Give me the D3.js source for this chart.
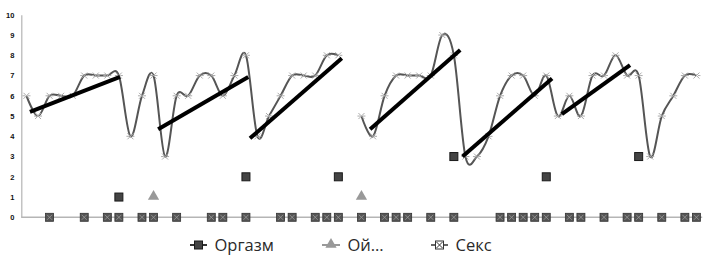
<!DOCTYPE html>
<html><head><meta charset="utf-8">
<script src="https://cdn.jsdelivr.net/npm/d3@7"></script>
<style>body{margin:0;background:#fff}svg{display:block}</style>
</head><body>
<svg id="c" width="711" height="260"></svg>
<script>
// ---- data ----
const categories = d3.range(1, 60); // 59 days
const sex = [6,5,6,6,6,7,7,7,7,4,6,7,3,6,6,7,7,6,7,8,4,5,6,7,7,7,8,8,null,5,4,6,7,7,7,7,9,8,3,3,4,6,7,7,6,7,5,6,5,7,7,8,7,7,3,5,6,7,7];
// Оргазм (non-zero values)
const orgasm = [null,null,null,null,null,null,null,null,1,null,null,null,null,null,null,null,null,null,null,2,null,null,null,null,null,null,null,2,null,null,null,null,null,null,null,null,null,3,null,null,null,null,null,null,null,2,null,null,null,null,null,null,null,3,null,null,null,null,null];
// Ой…
const oi = [null,null,null,null,null,null,null,null,null,null,null,1,null,null,null,null,null,null,null,null,null,null,null,null,null,null,null,null,null,1,null,null,null,null,null,null,null,null,null,null,null,null,null,null,null,null,null,null,null,null,null,null,null,null,null,null,null,null,null];
// zero-level markers (days with value 0)
const zeroDays = [2,5,7,8,10,11,13,16,17,19,22,23,25,26,27,29,31,32,33,35,37,41,42,43,44,45,47,48,50,52,53,55,57,58];
// trend segments: [startIndex, startValue, endIndex, endValue]
const trends = [
  [0.3, 5.21, 8.1, 6.94],
  [11.4, 4.35, 19.2, 6.93],
  [19.35, 3.9, 27.3, 7.85],
  [29.75, 4.35, 37.55, 8.26],
  [37.75, 3.0, 45.5, 6.86],
  [46.35, 5.1, 52.25, 7.52]
];
const yTicks = [0,1,2,3,4,5,6,7,8,9,10];
const legendNames = ["Оргазм", "Ой…", "Секс"];

// ---- chart ----
const svg = d3.select("#c");
const x = d3.scaleBand().domain(d3.range(categories.length)).range([20.7, 702.2]).padding(0);
const cx = i => x(Math.floor(i)) + x.bandwidth()/2 + (i - Math.floor(i)) * x.bandwidth();
const y = d3.scaleLinear().domain([0, 10]).range([217.3, 14.8]);

// y axis
const ya = svg.append("g").attr("transform", "translate(21.3,0)")
  .call(d3.axisLeft(y).tickValues(yTicks).tickSize(0).tickPadding(7));
ya.select(".domain").attr("stroke", "#b5b5b5").attr("stroke-width", 1.2);
ya.selectAll("text").attr("font-family", "Liberation Sans, Arial, sans-serif")
  .attr("font-weight", "bold").attr("font-size", 7.5).attr("fill", "#111");

// x axis baseline
svg.append("line").attr("x1", 21.3).attr("x2", 702.2).attr("y1", y(0)).attr("y2", y(0))
  .attr("stroke", "#b5b5b5").attr("stroke-width", 1.5);

// Секс line
const line = d3.line().defined(d => d != null).x((d, i) => cx(i)).y(d => y(d))
  .curve(d3.curveCatmullRom.alpha(0));
svg.append("path").datum(sex).attr("d", line).attr("fill", "none")
  .attr("stroke", "#555").attr("stroke-width", 2);

// x markers
function xMark(g, px, py, s, color) {
  g.append("path").attr("d", `M${px-s},${py-s}L${px+s},${py+s}M${px-s},${py+s}L${px+s},${py-s}M${px-s-1},${py}L${px-s+1.5},${py}M${px+s-1.5},${py}L${px+s+1},${py}`)
    .attr("stroke", color).attr("stroke-width", 1).attr("fill", "none");
}
const mk = svg.append("g");
sex.forEach((v, i) => { if (v != null) xMark(mk, cx(i), y(v), 3, "#aaa"); });

// trend lines
svg.append("g").selectAll("line").data(trends).join("line")
  .attr("x1", d => cx(d[0])).attr("y1", d => y(d[1]))
  .attr("x2", d => cx(d[2])).attr("y2", d => y(d[3]))
  .attr("stroke", "#000").attr("stroke-width", 4);

// zero markers (square with x)
function boxX(g, px, py, s) {
  g.append("rect").attr("x", px - s).attr("y", py - s).attr("width", 2*s).attr("height", 2*s)
    .attr("fill", "#555").attr("stroke", "#333").attr("stroke-width", 0.8);
  g.append("path").attr("d", `M${px-s+1.5},${py-s+1.5}L${px+s-1.5},${py+s-1.5}M${px-s+1.5},${py+s-1.5}L${px+s-1.5},${py-s+1.5}`)
    .attr("stroke", "#9a9a9a").attr("stroke-width", 0.8);
}
const zg = svg.append("g");
zeroDays.forEach(i => boxX(zg, cx(i), y(0), 4));

// Оргазм squares
svg.append("g").selectAll("rect").data(orgasm.map((v, i) => ({v, i})).filter(d => d.v != null)).join("rect")
  .attr("x", d => cx(d.i) - 4).attr("y", d => y(d.v) - 4).attr("width", 8).attr("height", 8)
  .attr("fill", "#444").attr("stroke", "#1a1a1a").attr("stroke-width", 1);

// Ой triangles
const tri = d3.symbol().type(d3.symbolTriangle).size(55);
svg.append("g").selectAll("path").data(oi.map((v, i) => ({v, i})).filter(d => d.v != null)).join("path")
  .attr("d", tri).attr("transform", d => `translate(${cx(d.i)},${y(d.v) - 0.5})`)
  .attr("fill", "#999");

// legend
const lg = svg.append("g").attr("font-family", "Open Sans, Noto Sans, sans-serif").attr("font-size", 16.5).attr("fill", "#2a2a2a");
const ly = 245;
// Оргазм
lg.append("line").attr("x1", 190).attr("x2", 207).attr("y1", ly).attr("y2", ly).attr("stroke", "#333").attr("stroke-width", 2);
lg.append("rect").attr("x", 194.5).attr("y", ly - 4).attr("width", 8).attr("height", 8).attr("fill", "#444").attr("stroke", "#1a1a1a");
lg.append("text").attr("x", 214.5).attr("y", ly).attr("dy", "0.35em").text(legendNames[0]);
// Ой
lg.append("line").attr("x1", 322).attr("x2", 340).attr("y1", ly).attr("y2", ly).attr("stroke", "#999").attr("stroke-width", 2);
lg.append("path").attr("d", tri).attr("transform", `translate(331,${ly - 0.5})`).attr("fill", "#999");
lg.append("text").attr("x", 347.5).attr("y", ly).attr("dy", "0.35em").text(legendNames[1]);
// Секс
lg.append("line").attr("x1", 431).attr("x2", 448).attr("y1", ly).attr("y2", ly).attr("stroke", "#333").attr("stroke-width", 1.5);
lg.append("rect").attr("x", 435.5).attr("y", ly - 4).attr("width", 8).attr("height", 8).attr("fill", "#fff").attr("stroke", "#333");
lg.append("path").attr("d", `M436.5,${ly-3}L442.5,${ly+3}M436.5,${ly+3}L442.5,${ly-3}`).attr("stroke", "#333").attr("stroke-width", 1);
lg.append("text").attr("x", 455.5).attr("y", ly).attr("dy", "0.35em").text(legendNames[2]);
</script>
</body></html>
